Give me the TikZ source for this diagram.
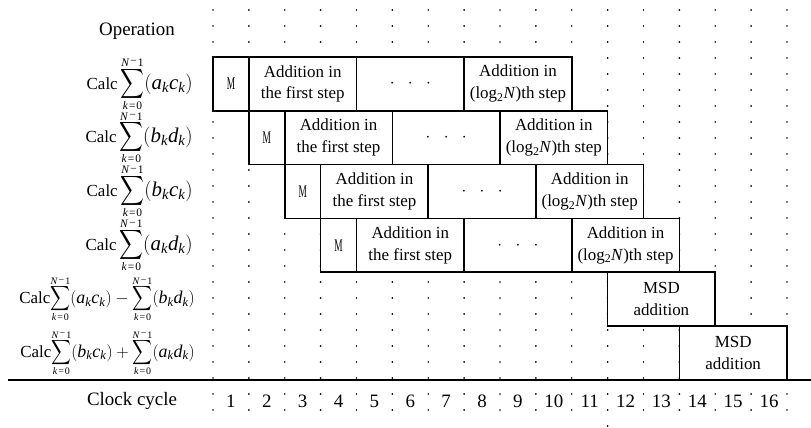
\documentclass[tikz,border=0pt]{standalone}
\usepackage{amsmath}
\usepackage[no-math]{fontspec}
\setmainfont{Liberation Serif}
\newfontfamily\lserif{Liberation Serif}[NFSSFamily=lserif]
\usepackage{graphicx}

% italic math letters taken from the serif text face
\DeclareSymbolFont{lsit}{TU}{lserif}{m}{it}
\DeclareMathSymbol{a}{\mathalpha}{lsit}{`a}
\DeclareMathSymbol{b}{\mathalpha}{lsit}{`b}
\DeclareMathSymbol{c}{\mathalpha}{lsit}{`c}
\DeclareMathSymbol{d}{\mathalpha}{lsit}{`d}
\DeclareMathSymbol{k}{\mathalpha}{lsit}{`k}
\DeclareMathSymbol{N}{\mathalpha}{lsit}{`N}

% summation sign with tightly stacked limits: #1 limit size, #2 sign size
\newcommand{\lsum}[2]{\mathop{\vcenter{\offinterlineskip
  \halign{\hfil##\hfil\cr
    \fontsize{#1}{#1}\selectfont\textit{N}\kern1pt\raisebox{0.25ex}{−}\kern1pt1\cr
    \noalign{\kern0.8bp}
    \fontsize{#2}{#2}\selectfont\scalebox{0.8}[1]{$\displaystyle\sum$}\cr
    \noalign{\kern1bp}
    \fontsize{#1}{#1}\selectfont\textit{k}\kern1pt=\kern1pt0\cr}}}}

% grid: column boundaries at 213 + 35.875*i, rows 53.8 high from y=57
\newcommand{\opcell}[5]{%
  \pgfmathsetmacro{\opcx}{213+35.875*(#3+#4)/2}%
  \pgfmathsetmacro{\opcy}{57+53.8*(#2-0.5)}%
  \pgfmathsetmacro{\opw}{35.875*(#4-#3)}%
  \node[opbox, minimum width=\opw bp] (#1) at (\opcx,\opcy) {#5};%
}
\newcommand{\oplabel}[4]{%
  \pgfmathsetmacro{\opcy}{57+53.8*(#2-0.5)}%
  \node[rowlabel] (#1) at (#3,\opcy) {#4};%
}
\newcommand{\single}[2]{Calc\,{\fontsize{21}{21}\selectfont$\lsum{11.5}{20.5}(#1_k#2_k)$}}
\newcommand{\pair}[5]{Calc{\fontsize{18}{18}\selectfont$\lsum{10}{17}(#1_k#2_k)\mathbin{#3}\lsum{10}{17}(#4_k#5_k)$}}
\newcommand{\mstep}{\scalebox{0.55}[1.05]{M}}
\newcommand{\firststep}{Addition in\\the first step}
\newcommand{\laststep}{Addition in\\(log\textsubscript{2}\textit{N})th step}
\newcommand{\middots}{\raisebox{-0.2ex}{$\cdot\;\;\cdot\;\;\cdot$}}

\tikzset{
  opbox/.style={draw, fill=white, line width=1.7bp, minimum height=53.8bp,
    inner sep=0pt, align=center, font=\lserif\fontsize{17}{22}\selectfont},
  rowlabel/.style={anchor=east, inner sep=0pt, font=\lserif\fontsize{17}{20}\selectfont},
  plain/.style={inner sep=0pt, font=\lserif\fontsize{19}{22}\selectfont},
  griddot/.style={fill=black},
}

\begin{document}
\begin{tikzpicture}[x=1bp,y=-1bp]
\useasboundingbox (0,0) rectangle (811,427);

% dotted cycle boundaries
\foreach \i in {0,...,16}
  \foreach \j in {0,...,25}
    \fill[griddot] ({213+35.875*\i},{10+16*\j}) circle (0.95bp);
\fill[griddot] ({213+35.875*11},426) circle (0.95bp);

% header and row labels
\node[plain] (op) at (137,31) {Operation};
\oplabel{l1}{1}{193}{\single ac}
\oplabel{l2}{2}{193}{\single bd}
\oplabel{l3}{3}{193}{\single bc}
\oplabel{l4}{4}{193}{\single ad}
\oplabel{l5}{5}{195}{\pair ac-bd}
\oplabel{l6}{6}{195}{\pair bc+ad}

% pipeline stages
\opcell{a1}{1}{0}{1}{\mstep}
\opcell{a2}{1}{1}{4}{\firststep}
\opcell{a3}{1}{4}{7}{\middots}
\opcell{a4}{1}{7}{10}{\laststep}

\opcell{b1}{2}{1}{2}{\mstep}
\opcell{b2}{2}{2}{5}{\firststep}
\opcell{b3}{2}{5}{8}{\middots}
\opcell{b4}{2}{8}{11}{\laststep}

\opcell{c1}{3}{2}{3}{\mstep}
\opcell{c2}{3}{3}{6}{\firststep}
\opcell{c3}{3}{6}{9}{\middots}
\opcell{c4}{3}{9}{12}{\laststep}

\opcell{d1}{4}{3}{4}{\mstep}
\opcell{d2}{4}{4}{7}{\firststep}
\opcell{d3}{4}{7}{10}{\middots}
\opcell{d4}{4}{10}{13}{\laststep}

\opcell{e1}{5}{11}{14}{MSD\\addition}
\opcell{f1}{6}{13}{16}{MSD\\addition}

% time axis
\coordinate (axisL) at (8,380);
\coordinate (axisR) at (811,380);
\draw[line width=1.5bp] (axisL) -- (axisR);
\node[plain] (clk) at (132,401) {Clock cycle};
\foreach \n in {1,...,16}
  \node[plain] (cyc\n) at ({213+35.875*(\n-0.5)},401) {\n};
\end{tikzpicture}
\end{document}
